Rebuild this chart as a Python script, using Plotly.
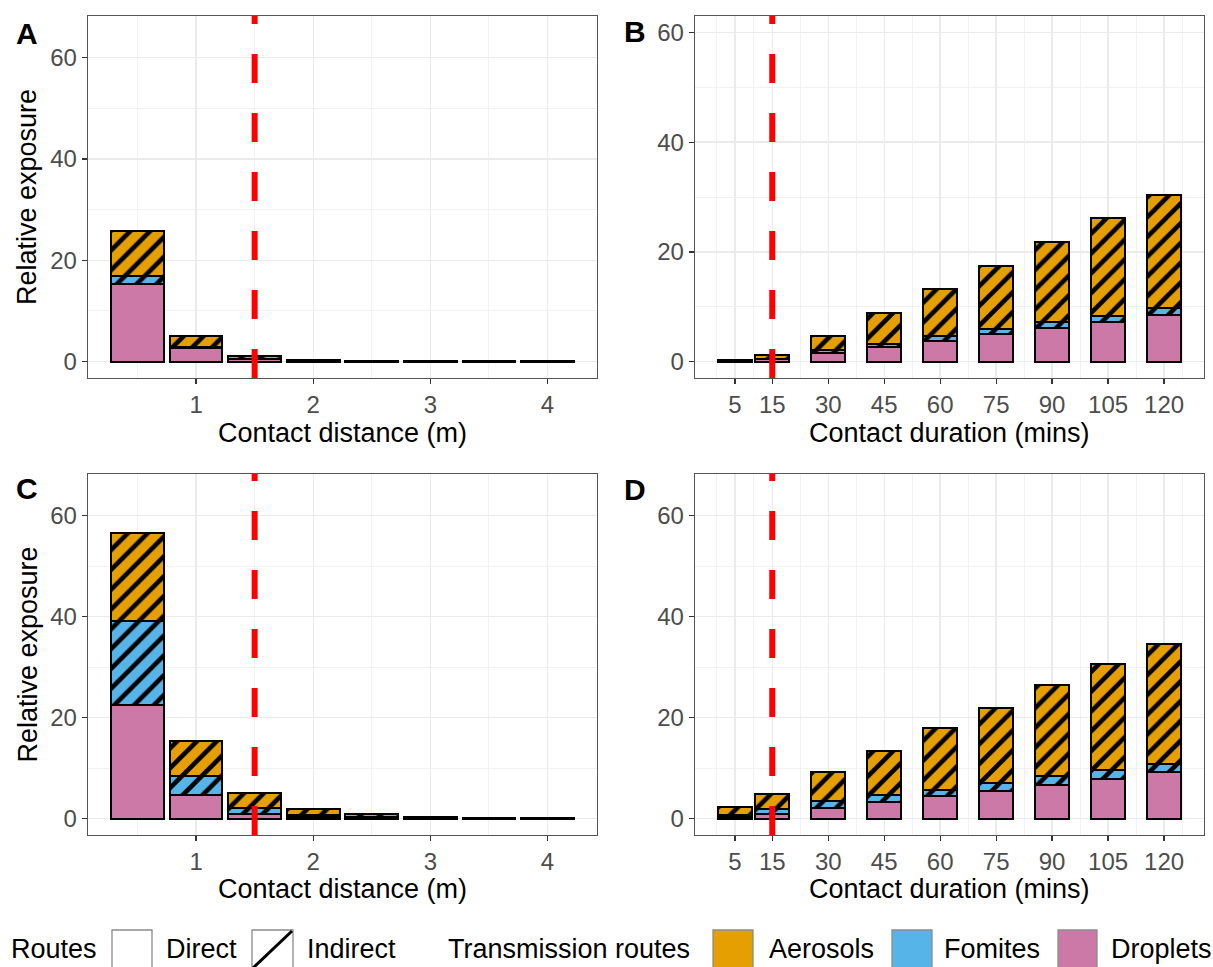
import plotly.graph_objects as go

# ---------------- data ----------------
dist_x = [0.5, 1.0, 1.5, 2.0, 2.5, 3.0, 3.5, 4.0]
dur_x = [5, 15, 30, 45, 60, 75, 90, 105, 120]

A_droplets = [15.4, 2.6, 0.45, 0.12, 0.06, 0.04, 0.03, 0.02]
A_fomites = [1.45, 0.3, 0.08, 0.02, 0.01, 0.01, 0.01, 0.01]
A_aerosols = [8.85, 2.15, 0.5, 0.16, 0.10, 0.07, 0.05, 0.04]

B_droplets = [0.08, 0.45, 1.64, 2.67, 3.76, 4.97, 6.18, 7.27, 8.42]
B_fomites = [0.02, 0.10, 0.45, 0.50, 0.90, 0.95, 1.00, 1.05, 1.40]
B_aerosols = [0.10, 0.65, 2.58, 5.63, 8.49, 11.58, 14.62, 17.88, 20.58]

C_droplets = [22.5, 4.75, 0.92, 0.30, 0.15, 0.06, 0.04, 0.03]
C_fomites = [16.7, 3.75, 1.08, 0.40, 0.20, 0.10, 0.05, 0.04]
C_aerosols = [17.3, 6.8, 3.1, 1.2, 0.55, 0.20, 0.11, 0.08]

D_droplets = [0.30, 0.92, 2.0, 3.2, 4.4, 5.5, 6.7, 7.9, 9.15]
D_fomites = [0.50, 1.06, 1.4, 1.55, 1.3, 1.55, 1.7, 1.65, 1.65]
D_aerosols = [1.45, 2.92, 5.8, 8.7, 12.2, 14.95, 18.0, 21.05, 23.8]

dist_ticks = [1, 2, 3, 4]
dur_ticks = [5, 15, 30, 45, 60, 75, 90, 105, 120]
y_ticks = [0, 20, 40, 60]
threshold_dist = 1.5
threshold_dur = 15

COL = {"Aerosols": "#E69F00", "Fomites": "#56B4E9", "Droplets": "#CC79A7"}
FONT = "Liberation Sans, Arial, sans-serif"

W, H = 1213, 967
def px(x):
    return x / W
def py(y):
    return 1 - y / H

fig = go.Figure()

panels = [
    ("x", "y", dist_x, A_droplets, A_fomites, A_aerosols, 0.45),
    ("x2", "y2", dur_x, B_droplets, B_fomites, B_aerosols, 9),
    ("x3", "y3", dist_x, C_droplets, C_fomites, C_aerosols, 0.45),
    ("x4", "y4", dur_x, D_droplets, D_fomites, D_aerosols, 9),
]

for xa, ya, xs, dro, fom, aer, w in panels:
    for name, vals, hatched in [("Droplets", dro, False), ("Fomites", fom, True), ("Aerosols", aer, True)]:
        marker = dict(color=COL[name], line=dict(color="black", width=2))
        if hatched:
            marker["pattern"] = dict(shape="/", fgcolor="black", fgopacity=1, bgcolor=COL[name],
                                     size=14, solidity=0.33)
        fig.add_trace(go.Bar(x=xs, y=vals, width=w, name=name, marker=marker,
                             xaxis=xa, yaxis=ya, showlegend=False))

# axis layout
grid = "#EBEBEB"
def xaxis(dom, rng, ticks, minor):
    return dict(domain=dom, range=rng, tickvals=ticks, ticktext=[str(t) for t in ticks],
                showgrid=True, gridcolor=grid, gridwidth=1.4, zeroline=False,
                minor=dict(tickvals=minor, showgrid=True, gridcolor=grid, gridwidth=0.7, ticks=""),
                showline=True, mirror=True, linecolor="#555555", linewidth=1.3,
                ticks="outside", ticklen=5, tickwidth=1.3, tickcolor="#333333",
                tickfont=dict(family=FONT, size=24, color="#4D4D4D"), fixedrange=True)

def yaxis(dom, rng, anchor):
    return dict(domain=dom, range=rng, tickvals=y_ticks, anchor=anchor,
                showgrid=True, gridcolor=grid, gridwidth=1.4, zeroline=False,
                minor=dict(tickvals=[10, 30, 50], showgrid=True, gridcolor=grid, gridwidth=0.7, ticks=""),
                showline=True, mirror=True, linecolor="#555555", linewidth=1.3,
                ticks="outside", ticklen=5, tickwidth=1.3, tickcolor="#333333",
                tickfont=dict(family=FONT, size=24, color="#4D4D4D"), fixedrange=True)

xl = [px(88), px(597)]
xr = [px(695), px(1204)]
yt = [py(378), py(16)]
yb = [py(835), py(474)]
dist_minor = [0.5, 1.5, 2.5, 3.5]
dur_minor = [0, 10, 22.5, 37.5, 52.5, 67.5, 82.5, 97.5, 112.5, 125]
rng_y = [-3.25, 68.25]

fig.update_layout(
    xaxis=dict(xaxis(xl, [0.0775, 4.4225], dist_ticks, dist_minor), anchor="y"),
    yaxis=yaxis(yt, rng_y, "x"),
    xaxis2=dict(xaxis(xr, [-5.7, 130.7], dur_ticks, dur_minor), anchor="y2"),
    yaxis2=yaxis(yt, [-3.0, 63.0], "x2"),
    xaxis3=dict(xaxis(xl, [0.0775, 4.4225], dist_ticks, dist_minor), anchor="y3"),
    yaxis3=yaxis(yb, rng_y, "x3"),
    xaxis4=dict(xaxis(xr, [-5.7, 130.7], dur_ticks, dur_minor), anchor="y4"),
    yaxis4=yaxis(yb, rng_y, "x4"),
)

# threshold lines
shapes = []
for xa, ya, xv in [("x", "y", threshold_dist), ("x2", "y2", threshold_dur),
                   ("x3", "y3", threshold_dist), ("x4", "y4", threshold_dur)]:
    shapes.append(dict(type="line", xref=xa, yref=ya + " domain", x0=xv, x1=xv, y0=0, y1=1,
                       line=dict(color="#FF0000", width=6, dash="29px,30px"), layer="above"))

annotations = []
def text(x, y, s, size, bold=False, color="black", xanchor="center", angle=0):
    annotations.append(dict(x=px(x), y=py(y), xref="paper", yref="paper", text=("<b>%s</b>" % s) if bold else s,
                            showarrow=False, xanchor=xanchor, yanchor="middle", textangle=angle,
                            borderpad=0, font=dict(family=FONT, size=size, color=color)))

# panel tags
text(27, 33, "A", 30, bold=True)
text(635, 31, "B", 30, bold=True)
text(27, 488, "C", 30, bold=True)
text(635, 489, "D", 30, bold=True)
# axis titles
text(342.5, 433, "Contact distance (m)", 27)
text(949.5, 433, "Contact duration (mins)", 27)
text(342.5, 889, "Contact distance (m)", 27)
text(949.5, 889, "Contact duration (mins)", 27)
text(27, 197, "Relative exposure", 27, angle=-90)
text(27, 654.5, "Relative exposure", 27, angle=-90)

# legend
ly = 949
LS = 27
text(10, ly, "Routes", LS, xanchor="left")
text(165, ly, "Direct", LS, xanchor="left")
text(306, ly, "Indirect", LS, xanchor="left")
text(447, ly, "Transmission routes", LS, xanchor="left")
text(768, ly, "Aerosols", LS, xanchor="left")
text(943, ly, "Fomites", LS, xanchor="left")
text(1110, ly, "Droplets", LS, xanchor="left")

def key(x0, x1, fill):
    shapes.append(dict(type="rect", xref="paper", yref="paper", x0=px(x0), x1=px(x1),
                       y0=py(972), y1=py(930), fillcolor=fill, line=dict(color="#8C8C8C", width=1.3)))
key(112, 152, "white")
key(252, 293, "white")
shapes.append(dict(type="line", xref="paper", yref="paper", x0=px(253), x1=px(292), y0=py(968), y1=py(931),
                   line=dict(color="black", width=3)))
key(713, 753, COL["Aerosols"])
key(892, 932, COL["Fomites"])
key(1058, 1097, COL["Droplets"])

fig.update_layout(
    width=W, height=H, margin=dict(l=0, r=0, t=0, b=0),
    paper_bgcolor="white", plot_bgcolor="white",
    barmode="stack", showlegend=False,
    shapes=shapes, annotations=annotations,
    font=dict(family=FONT),
)

fig.write_html("out.html", config={"displayModeBar": False, "staticPlot": True},
               post_script="document.body.style.margin='0px';document.body.style.overflow='hidden';")
